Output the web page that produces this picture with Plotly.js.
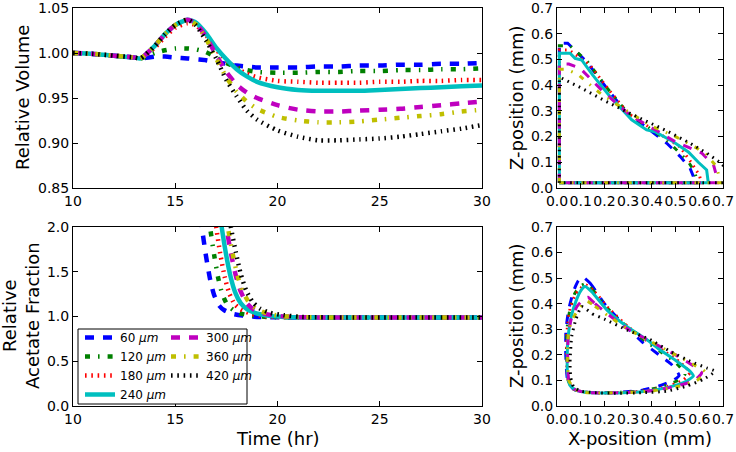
<!DOCTYPE html>
<html><head><meta charset="utf-8">
<script src="https://cdn.plot.ly/plotly-3.0.1.min.js"></script>
<style>html,body{margin:0;padding:0;background:#fff}#chart{width:736px;height:452px}</style>
</head><body><div id="chart"></div>
<script>
// ---------- data ----------
const sizes = ["60", "120", "180", "240", "300", "360", "420"];
const colors = ["#0000ff", "#008000", "#ff0000", "#00bfbf", "#bf00bf", "#bfbf00", "#000000"];
const timeTicks = [10, 15, 20, 25, 30];
const volTicks = [0.85, 0.90, 0.95, 1.00, 1.05];
const acTicks = [0, 0.5, 1.0, 1.5, 2.0];
const posTicks = [0, 0.1, 0.2, 0.3, 0.4, 0.5, 0.6, 0.7];

// Relative volume vs time
const timeVol = [10, 11, 12, 13, 13.3, 14, 14.5, 15, 15.6, 16, 16.5, 17, 17.5, 18, 18.5, 19, 20, 21, 22, 23, 24, 25, 26, 27, 28, 29, 30];
const vol60  = [1.000, 0.999, 0.997, 0.995, 0.994, 0.996, 0.996, 0.995, 0.994, 0.993, 0.992, 0.990, 0.988, 0.986, 0.985, 0.984, 0.984, 0.984, 0.985, 0.985, 0.986, 0.986, 0.987, 0.987, 0.988, 0.988, 0.989];
const vol120 = [1.000, 0.999, 0.997, 0.995, 0.994, 1.000, 1.003, 1.005, 1.005, 1.004, 1.001, 0.995, 0.989, 0.984, 0.981, 0.979, 0.978, 0.978, 0.979, 0.979, 0.980, 0.980, 0.981, 0.981, 0.982, 0.982, 0.983];
const vol180 = [1.000, 0.999, 0.997, 0.995, 0.994, 1.006, 1.018, 1.028, 1.033, 1.031, 1.020, 1.004, 0.992, 0.983, 0.977, 0.973, 0.969, 0.968, 0.967, 0.967, 0.967, 0.968, 0.968, 0.969, 0.969, 0.970, 0.970];
const vol240 = [1.000, 0.999, 0.997, 0.995, 0.994, 1.008, 1.021, 1.031, 1.037, 1.034, 1.022, 1.006, 0.993, 0.982, 0.974, 0.968, 0.962, 0.959, 0.958, 0.958, 0.958, 0.959, 0.960, 0.961, 0.962, 0.963, 0.964];
const vol300 = [1.000, 0.999, 0.997, 0.995, 0.994, 1.008, 1.021, 1.031, 1.037, 1.033, 1.018, 0.998, 0.979, 0.965, 0.956, 0.950, 0.942, 0.937, 0.935, 0.935, 0.936, 0.937, 0.938, 0.940, 0.942, 0.944, 0.946];
const vol360 = [1.000, 0.999, 0.997, 0.995, 0.994, 1.008, 1.021, 1.031, 1.037, 1.032, 1.016, 0.994, 0.973, 0.957, 0.946, 0.938, 0.929, 0.925, 0.923, 0.923, 0.924, 0.926, 0.928, 0.930, 0.932, 0.935, 0.937];
const vol420 = [1.000, 0.999, 0.997, 0.995, 0.994, 1.008, 1.021, 1.031, 1.037, 1.031, 1.014, 0.994, 0.970, 0.952, 0.936, 0.926, 0.914, 0.907, 0.903, 0.903, 0.904, 0.905, 0.907, 0.910, 0.913, 0.916, 0.920];

// Relative acetate fraction vs time
const tAc60  = [15.9, 16.3, 16.5, 16.7, 16.9, 17.15, 17.4, 17.8, 18.3, 19.0, 20.3, 24.3, 30];
const tAc120 = [16.3, 16.7, 16.9, 17.1, 17.3, 17.55, 17.85, 18.25, 18.75, 19.45, 20.75, 24.7, 30];
const tAc180 = [16.6, 17.0, 17.2, 17.42, 17.64, 17.9, 18.2, 18.65, 19.15, 19.9, 21.2, 25.0, 30];
const tAc240 = [16.85, 17.27, 17.48, 17.7, 17.93, 18.2, 18.52, 18.97, 19.5, 20.3, 21.6, 25.5, 30];
const tAc300 = [17.05, 17.5, 17.72, 17.96, 18.2, 18.5, 18.83, 19.3, 19.9, 20.7, 22.0, 26.0, 30];
const tAc360 = [17.1, 17.57, 17.8, 18.04, 18.29, 18.6, 18.93, 19.42, 20.03, 20.85, 22.2, 26.0, 30];
const tAc420 = [17.25, 17.72, 17.96, 18.21, 18.47, 18.79, 19.13, 19.65, 20.3, 21.1, 22.5, 26.0, 30];
const ac60  = [2.70, 2.00, 1.68, 1.42, 1.24, 1.12, 1.07, 1.03, 1.01, 0.995, 0.99, 0.99, 0.99];
const ac120 = [2.70, 2.00, 1.69, 1.43, 1.25, 1.13, 1.07, 1.03, 1.01, 0.995, 0.99, 0.99, 0.99];
const ac180 = [2.70, 2.00, 1.70, 1.44, 1.26, 1.14, 1.08, 1.035, 1.01, 0.995, 0.99, 0.99, 0.99];
const ac240 = [2.70, 2.00, 1.70, 1.45, 1.27, 1.15, 1.08, 1.035, 1.01, 0.995, 0.99, 0.99, 0.99];
const ac300 = [2.70, 2.00, 1.71, 1.46, 1.28, 1.15, 1.08, 1.035, 1.01, 0.995, 0.99, 0.99, 0.99];
const ac360 = [2.70, 2.00, 1.71, 1.46, 1.28, 1.16, 1.09, 1.04, 1.01, 0.995, 0.99, 0.99, 0.99];
const ac420 = [2.70, 2.00, 1.72, 1.47, 1.29, 1.16, 1.09, 1.04, 1.015, 0.995, 0.99, 0.99, 0.99];

// Cross-section profiles, top-right panel (X, Z in mm)
const topX60  = [0.01, 0.01, 0.045, 0.125, 0.21, 0.294, 0.372, 0.463, 0.52, 0.561, 0.575, 0.578, 0.01];
const topZ60  = [0.02, 0.563, 0.563, 0.491, 0.388, 0.29, 0.24, 0.174, 0.122, 0.077, 0.045, 0.02, 0.02];
const topX120 = [0.01, 0.01, 0.055, 0.13, 0.21, 0.30, 0.38, 0.47, 0.554, 0.582, 0.592, 0.01];
const topZ120 = [0.02, 0.553, 0.553, 0.49, 0.39, 0.29, 0.24, 0.18, 0.102, 0.06, 0.02, 0.02];
const topX180 = [0.01, 0.01, 0.05, 0.139, 0.22, 0.30, 0.40, 0.519, 0.565, 0.60, 0.61, 0.01];
const topZ180 = [0.02, 0.537, 0.537, 0.478, 0.38, 0.29, 0.23, 0.16, 0.10, 0.05, 0.02, 0.02];
const topX240 = [0.01, 0.01, 0.055, 0.076, 0.104, 0.15, 0.22, 0.315, 0.378, 0.413, 0.49, 0.554, 0.596, 0.631, 0.638, 0.01];
const topZ240 = [0.02, 0.524, 0.524, 0.504, 0.498, 0.44, 0.36, 0.265, 0.226, 0.219, 0.18, 0.14, 0.10, 0.07, 0.02, 0.02];
const topX300 = [0.01, 0.01, 0.05, 0.097, 0.20, 0.31, 0.441, 0.498, 0.61, 0.66, 0.675, 0.677, 0.01];
const topZ300 = [0.02, 0.482, 0.482, 0.466, 0.37, 0.282, 0.212, 0.18, 0.136, 0.09, 0.04, 0.02, 0.02];
const topX360 = [0.01, 0.01, 0.04, 0.09, 0.18, 0.266, 0.40, 0.50, 0.59, 0.63, 0.673, 0.687, 0.69, 0.01];
const topZ360 = [0.02, 0.462, 0.462, 0.44, 0.37, 0.316, 0.24, 0.20, 0.155, 0.13, 0.083, 0.03, 0.02, 0.02];
const topX420 = [0.01, 0.01, 0.02, 0.10, 0.20, 0.308, 0.47, 0.561, 0.631, 0.687, 0.72, 0.72, 0.01];
const topZ420 = [0.02, 0.427, 0.427, 0.39, 0.34, 0.29, 0.219, 0.174, 0.136, 0.10, 0.07, 0.02, 0.02];

// Cross-section profiles, bottom-right panel (X, Z in mm)
const botX60  = [0.108, 0.14, 0.20, 0.28, 0.36, 0.43, 0.48, 0.515, 0.49, 0.43, 0.36, 0.28, 0.20, 0.12, 0.07, 0.045, 0.037, 0.038, 0.05, 0.07, 0.09, 0.108];
const botZ60  = [0.505, 0.48, 0.40, 0.32, 0.25, 0.20, 0.165, 0.12, 0.10, 0.078, 0.062, 0.055, 0.052, 0.054, 0.065, 0.10, 0.20, 0.30, 0.38, 0.45, 0.49, 0.505];
const botX120 = [0.12, 0.15, 0.21, 0.29, 0.37, 0.44, 0.50, 0.54, 0.51, 0.44, 0.36, 0.28, 0.20, 0.12, 0.07, 0.047, 0.04, 0.042, 0.055, 0.075, 0.10, 0.12];
const botZ120 = [0.478, 0.455, 0.385, 0.315, 0.255, 0.21, 0.17, 0.125, 0.10, 0.075, 0.06, 0.054, 0.052, 0.054, 0.065, 0.10, 0.20, 0.30, 0.38, 0.44, 0.47, 0.478];
const botX180 = [0.125, 0.16, 0.22, 0.30, 0.38, 0.45, 0.52, 0.56, 0.53, 0.46, 0.38, 0.30, 0.20, 0.12, 0.07, 0.047, 0.04, 0.043, 0.055, 0.08, 0.105, 0.125];
const botZ180 = [0.472, 0.445, 0.38, 0.31, 0.255, 0.215, 0.17, 0.13, 0.10, 0.075, 0.06, 0.054, 0.051, 0.054, 0.065, 0.10, 0.20, 0.30, 0.38, 0.44, 0.465, 0.472];
const botX240 = [0.118, 0.146, 0.21, 0.294, 0.378, 0.434, 0.505, 0.561, 0.575, 0.533, 0.463, 0.378, 0.30, 0.20, 0.13, 0.08, 0.055, 0.045, 0.043, 0.048, 0.06, 0.08, 0.10, 0.118];
const botZ240 = [0.467, 0.447, 0.376, 0.311, 0.26, 0.22, 0.175, 0.136, 0.117, 0.091, 0.072, 0.058, 0.053, 0.051, 0.053, 0.062, 0.08, 0.12, 0.20, 0.28, 0.35, 0.41, 0.45, 0.467];
const botX300 = [0.13, 0.16, 0.22, 0.30, 0.40, 0.50, 0.57, 0.61, 0.58, 0.50, 0.40, 0.30, 0.20, 0.12, 0.075, 0.05, 0.045, 0.048, 0.06, 0.085, 0.11, 0.13];
const botZ300 = [0.425, 0.40, 0.355, 0.30, 0.25, 0.20, 0.16, 0.13, 0.10, 0.077, 0.06, 0.053, 0.051, 0.053, 0.065, 0.10, 0.20, 0.28, 0.34, 0.39, 0.415, 0.425];
const botX360 = [0.127, 0.16, 0.22, 0.30, 0.40, 0.50, 0.58, 0.625, 0.59, 0.51, 0.41, 0.31, 0.20, 0.12, 0.075, 0.05, 0.045, 0.048, 0.06, 0.085, 0.11, 0.127];
const botZ360 = [0.41, 0.39, 0.35, 0.30, 0.25, 0.20, 0.16, 0.133, 0.10, 0.076, 0.06, 0.053, 0.051, 0.053, 0.065, 0.10, 0.20, 0.28, 0.33, 0.37, 0.40, 0.41];
const botX420 = [0.104, 0.15, 0.20, 0.30, 0.392, 0.477, 0.561, 0.631, 0.666, 0.617, 0.547, 0.463, 0.36, 0.26, 0.16, 0.10, 0.07, 0.058, 0.055, 0.062, 0.08, 0.104];
const botZ420 = [0.389, 0.36, 0.34, 0.295, 0.26, 0.214, 0.175, 0.149, 0.136, 0.104, 0.078, 0.058, 0.052, 0.05, 0.052, 0.058, 0.075, 0.11, 0.17, 0.272, 0.34, 0.389];

const volSeries = [vol60, vol120, vol180, vol240, vol300, vol360, vol420];
const acT = [tAc60, tAc120, tAc180, tAc240, tAc300, tAc360, tAc420];
const acV = [ac60, ac120, ac180, ac240, ac300, ac360, ac420];
const topX = [topX60, topX120, topX180, topX240, topX300, topX360, topX420];
const topZ = [topZ60, topZ120, topZ180, topZ240, topZ300, topZ360, topZ420];
const botX = [botX60, botX120, botX180, botX240, botX300, botX360, botX420];
const botZ = [botZ60, botZ120, botZ180, botZ240, botZ300, botZ360, botZ420];

// ---------- styles ----------
const dashes = ["9px,9px", "5px,8px,1.6px,8px", "1.6px,4.7px", "solid", "9px,9px", "5px,8px,1.6px,8px", "1.6px,4.7px"];
const traces = [];
for (let i = 0; i < 7; i++) {
  traces.push({x: timeVol, y: volSeries[i], xaxis: "x", yaxis: "y", mode: "lines",
    line: {color: colors[i], width: 4.5, dash: dashes[i], shape: "spline", smoothing: 0.6},
    showlegend: false, hoverinfo: "skip"});
}
for (let i = 0; i < 7; i++) {
  traces.push({x: acT[i], y: acV[i], xaxis: "x2", yaxis: "y2", mode: "lines",
    name: sizes[i] + " <i>μm</i>", legend: i < 4 ? "legend" : "legend2",
    line: {color: colors[i], width: 4.5, dash: dashes[i], shape: "spline", smoothing: 0.6},
    showlegend: true, hoverinfo: "skip"});
}
for (let i = 0; i < 7; i++) {
  traces.push({x: topX[i], y: topZ[i], xaxis: "x3", yaxis: "y3", mode: "lines",
    line: {color: colors[i], width: 3, dash: dashes[i]}, showlegend: false, hoverinfo: "skip"});
}
for (let i = 0; i < 7; i++) {
  traces.push({x: botX[i], y: botZ[i], xaxis: "x4", yaxis: "y4", mode: "lines",
    line: {color: colors[i], width: 3, dash: dashes[i], shape: "spline", smoothing: 0.5},
    showlegend: false, hoverinfo: "skip"});
}

const W = 736, H = 452;
const px = v => v / W, py = v => 1 - v / H;
const eps = 1e-6;
const axBase = {showline: true, linecolor: "#000", linewidth: 1, mirror: "ticks", ticks: "inside",
  ticklen: 5, tickwidth: 1, tickcolor: "#000", showgrid: false, zeroline: false, tickangle: 0,
  tickfont: {family: "DejaVu Sans", size: 14, color: "#000"}};
const leftX = [px(73), px(482)], rightX = [px(557), px(723)];
const topY = [py(188), py(8)], botY = [py(406), py(227)];
const titleFont = {family: "DejaVu Sans", size: 18, color: "#000"};
const legFont = {family: "DejaVu Sans", size: 12, color: "#000"};

const layout = {
  width: W, height: H, margin: {l: 0, r: 0, t: 0, b: 0},
  paper_bgcolor: "#fff", plot_bgcolor: "#fff",
  font: {family: "DejaVu Sans", color: "#000"},
  xaxis: Object.assign({}, axBase, {domain: leftX, range: [10 - eps, 30 + eps], tickvals: timeTicks, anchor: "y"}),
  yaxis: Object.assign({}, axBase, {domain: topY, range: [0.85 - eps, 1.05 + eps], tickvals: volTicks, tickformat: ".2f", anchor: "x"}),
  xaxis2: Object.assign({}, axBase, {domain: leftX, range: [10 - eps, 30 + eps], tickvals: timeTicks, anchor: "y2"}),
  yaxis2: Object.assign({}, axBase, {domain: botY, range: [0 - eps, 2 + eps], tickvals: acTicks, tickformat: ".1f", anchor: "x2"}),
  xaxis3: Object.assign({}, axBase, {domain: rightX, range: [0 - eps, 0.7 + eps], tickvals: posTicks, tickformat: ".1f", anchor: "y3"}),
  yaxis3: Object.assign({}, axBase, {domain: topY, range: [0 - eps, 0.7 + eps], tickvals: posTicks, tickformat: ".1f", anchor: "x3"}),
  xaxis4: Object.assign({}, axBase, {domain: rightX, range: [0 - eps, 0.7 + eps], tickvals: posTicks, tickformat: ".1f", anchor: "y4"}),
  yaxis4: Object.assign({}, axBase, {domain: botY, range: [0 - eps, 0.7 + eps], tickvals: posTicks, tickformat: ".1f", anchor: "x4"}),
  legend: {x: px(80), y: py(323), xanchor: "left", yanchor: "top", bgcolor: "rgba(0,0,0,0)",
    font: legFont, tracegroupgap: 0, itemwidth: 30},
  legend2: {x: px(166), y: py(323), xanchor: "left", yanchor: "top", bgcolor: "rgba(0,0,0,0)",
    font: legFont, tracegroupgap: 0, itemwidth: 30},
  shapes: [{type: "rect", xref: "paper", yref: "paper", x0: px(78), x1: px(247), y0: py(404), y1: py(329),
    line: {color: "#000", width: 1}, fillcolor: "#fff", layer: "above"}],
  annotations: [
    {text: "Relative Volume", xref: "paper", yref: "paper", x: px(22), y: py(98), textangle: -90, showarrow: false, font: titleFont, xanchor: "center", yanchor: "middle"},
    {text: "Relative<br>Acetate Fraction", xref: "paper", yref: "paper", x: px(21), y: py(316), textangle: -90, showarrow: false, font: titleFont, xanchor: "center", yanchor: "middle"},
    {text: "Z-position (mm)", xref: "paper", yref: "paper", x: px(516), y: py(98), textangle: -90, showarrow: false, font: titleFont, xanchor: "center", yanchor: "middle"},
    {text: "Z-position (mm)", xref: "paper", yref: "paper", x: px(516), y: py(316), textangle: -90, showarrow: false, font: titleFont, xanchor: "center", yanchor: "middle"},
    {text: "Time (hr)", xref: "paper", yref: "paper", x: px(278), y: py(438), showarrow: false, font: titleFont, xanchor: "center", yanchor: "middle"},
    {text: "X-position (mm)", xref: "paper", yref: "paper", x: px(640), y: py(438), showarrow: false, font: titleFont, xanchor: "center", yanchor: "middle"}
  ]
};

Plotly.newPlot("chart", traces, layout, {staticPlot: true, displayModeBar: false});
</script></body></html>
